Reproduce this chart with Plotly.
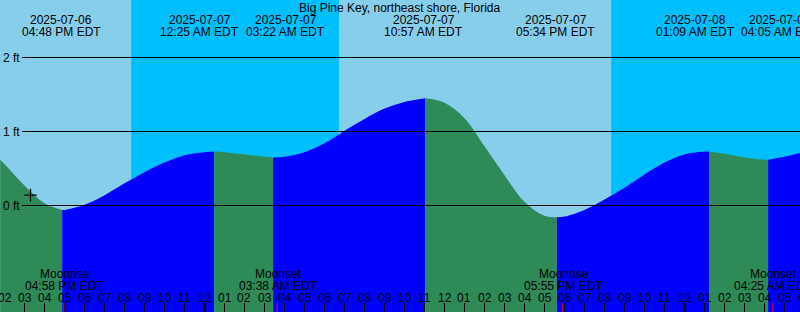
import pandas as pd
import plotly.graph_objects as go

# ---------------- data ----------------
station = "Big Pine Key, northeast shore, Florida"

tide_times = [
    "2025-07-06 13:47", "2025-07-06 14:00", "2025-07-06 15:00", "2025-07-06 16:00",
    "2025-07-06 16:53", "2025-07-06 17:00", "2025-07-06 18:00", "2025-07-06 19:00",
    "2025-07-06 20:00", "2025-07-06 21:00", "2025-07-06 22:00", "2025-07-06 23:00",
    "2025-07-07 00:00", "2025-07-07 00:29", "2025-07-07 01:00", "2025-07-07 02:00",
    "2025-07-07 03:00", "2025-07-07 03:26", "2025-07-07 04:00", "2025-07-07 05:00",
    "2025-07-07 06:00", "2025-07-07 07:00", "2025-07-07 08:00", "2025-07-07 09:00",
    "2025-07-07 10:00", "2025-07-07 11:02", "2025-07-07 12:00", "2025-07-07 13:00",
    "2025-07-07 14:00", "2025-07-07 15:00", "2025-07-07 16:00", "2025-07-07 17:00",
    "2025-07-07 17:37", "2025-07-07 18:00", "2025-07-07 19:00", "2025-07-07 20:00",
    "2025-07-07 21:00", "2025-07-07 22:00", "2025-07-07 23:00", "2025-07-08 00:00",
    "2025-07-08 01:00", "2025-07-08 01:14", "2025-07-08 02:00", "2025-07-08 03:00",
    "2025-07-08 04:00", "2025-07-08 04:11", "2025-07-08 05:00", "2025-07-08 05:47",
    "2025-07-08 06:00",
]
tide_heights = [
    0.62, 0.56, 0.27, 0.03,
    -0.06, -0.06, 0.01, 0.14,
    0.30, 0.45, 0.58, 0.68,
    0.72, 0.73, 0.72, 0.69,
    0.66, 0.65, 0.66, 0.72,
    0.84, 1.01, 1.17, 1.31,
    1.40, 1.45, 1.39, 1.18,
    0.80, 0.41, 0.05, -0.14,
    -0.16, -0.15, -0.06, 0.08,
    0.24, 0.42, 0.58, 0.69,
    0.73, 0.73, 0.70, 0.65,
    0.62, 0.62, 0.66, 0.71,
    0.72,
]
# turning points of the curve (where the fill colour changes)
turn_times = ["2025-07-06 16:53", "2025-07-07 00:29", "2025-07-07 03:26",
              "2025-07-07 11:02", "2025-07-07 17:37", "2025-07-08 01:14",
              "2025-07-08 04:11"]

# tide event labels along the top
event_stamps = ["2025-07-06 16:48", "2025-07-07 00:25", "2025-07-07 03:22",
                "2025-07-07 10:57", "2025-07-07 17:34", "2025-07-08 01:09",
                "2025-07-08 04:05"]
event_dates = ["2025-07-06", "2025-07-07", "2025-07-07", "2025-07-07",
               "2025-07-07", "2025-07-08", "2025-07-08"]
event_clock = ["04:48 PM EDT", "12:25 AM EDT", "03:22 AM EDT", "10:57 AM EDT",
               "05:34 PM EDT", "01:09 AM EDT", "04:05 AM EDT"]

# moon events along the bottom
moon_stamps = ["2025-07-06 16:58", "2025-07-07 03:38", "2025-07-07 17:55",
               "2025-07-08 04:25"]
moon_kinds = ["Moonrise", "Moonset", "Moonrise", "Moonset"]
moon_clock = ["04:58 PM EDT", "03:38 AM EDT", "05:55 PM EDT", "04:25 AM EDT"]

# daylight periods
sun_changes = ["2025-07-06 20:20", "2025-07-07 06:44", "2025-07-07 20:20"]

# markers
now_time = "2025-07-06 15:18"
now_height = 0.14

height_ticks = [0, 1, 2]
height_tick_text = ["0 ft", "1 ft", "2 ft"]

# ---------------- styling ----------------
X_START, X_END = "2025-07-06 13:46:30", "2025-07-08 05:46:30"
Y_MIN, Y_MAX = -1.439, 2.777
DAY, NIGHT = "#87CEEB", "#00BFFF"
FLOOD, EBB = "#0000FF", "#2E8B57"
FONT = "Liberation Sans, Arial, sans-serif"
W, H = 800, 312

fig = go.Figure()

t_series = pd.to_datetime(pd.Series(tide_times))
h_series = pd.Series(tide_heights)
bounds = [t_series.iloc[0]] + list(pd.to_datetime(turn_times)) + [t_series.iloc[-1]]
for a, b in zip(bounds[:-1], bounds[1:]):
    m = (t_series >= a) & (t_series <= b)
    ts, hs = t_series[m], h_series[m]
    color = FLOOD if hs.iloc[-1] > hs.iloc[0] else EBB
    fig.add_trace(go.Scatter(x=[ts.iloc[0], ts.iloc[-1]], y=[Y_MIN, Y_MIN], mode="lines",
                             line=dict(width=0), hoverinfo="skip", showlegend=False))
    fig.add_trace(go.Scatter(x=ts, y=hs, mode="lines", fill="tonexty", fillcolor=color,
                             line=dict(width=0, shape="spline", smoothing=1.0, color=color),
                             hoverinfo="skip", showlegend=False))

fig.add_trace(go.Scatter(x=[now_time], y=[now_height], mode="markers",
                         marker=dict(symbol="cross-thin", size=9, line=dict(width=1.2, color="black")),
                         hoverinfo="skip", showlegend=False))

shapes = []
periods = [X_START] + sun_changes + [X_END]
for i, (a, b) in enumerate(zip(periods[:-1], periods[1:])):
    shapes.append(dict(type="rect", xref="x", yref="paper", x0=a, x1=b, y0=0, y1=1,
                       fillcolor=DAY if i % 2 == 0 else NIGHT, line=dict(width=0), layer="below"))
for v in height_ticks:
    shapes.append(dict(type="line", xref="paper", yref="y", x0=22 / W, x1=1, y0=v, y1=v,
                       line=dict(color="black", width=1), layer="above"))
for mid in ["2025-07-07 00:00", "2025-07-08 00:00"]:
    shapes.append(dict(type="line", xref="x", yref="paper", x0=mid, x1=mid, y0=0, y1=9 / H,
                       line=dict(color="black", width=3), layer="above"))
for s in moon_stamps:
    shapes.append(dict(type="line", xref="x", yref="paper", x0=s, x1=s, y0=0, y1=9 / H,
                       line=dict(color="red", width=1), layer="above"))

def label(txt, x, py, xref="x", dx=0):
    return dict(text=txt, xref=xref, yref="paper", x=x, y=1 - py / H, xshift=dx,
                showarrow=False, xanchor="center", yanchor="middle",
                font=dict(size=12, color="black", family=FONT))

ann = [label(station, 0.5, 7.5, xref="paper")]
label_shift = [0.5, -13, 14, 0, 0, -12.5, 14]
for s, d, c, dx in zip(event_stamps, event_dates, event_clock, label_shift):
    ann.append(label(d, s, 19.5, dx=dx))
    ann.append(label(c, s, 32, dx=dx))
for s, k, c in zip(moon_stamps, moon_kinds, moon_clock):
    ann.append(label(k, s, 274, dx=1))
    ann.append(label(c, s, 285.5, dx=1))

# hour labels, placed by their fraction of the time axis (so the edge one still shows)
hour_ticks = pd.date_range("2025-07-06 14:00", "2025-07-08 06:00", freq="h")
x0, x1 = pd.Timestamp(X_START), pd.Timestamp(X_END)
for t in hour_ticks:
    ann.append(label(t.strftime("%I"), (t - x0) / (x1 - x0), 297.5, xref="paper"))

fig.update_layout(
    width=W, height=H, margin=dict(l=0, r=0, t=0, b=0),
    paper_bgcolor=DAY, plot_bgcolor=DAY, showlegend=False,
    shapes=shapes, annotations=ann,
    xaxis=dict(type="date", range=[X_START, X_END], tickvals=hour_ticks, tickformat="%I",
               ticks="inside", ticklen=9, tickwidth=1, tickcolor="black",
               showticklabels=False,
               showgrid=False, zeroline=False, showline=False, fixedrange=True),
    yaxis=dict(range=[Y_MIN, Y_MAX], tickvals=height_ticks, ticktext=height_tick_text,
               ticks="", ticklabelposition="inside", tickfont=dict(size=12, color="black", family=FONT),
               showgrid=False, zeroline=False, showline=False, fixedrange=True),
)

fig.write_html("out.html")
